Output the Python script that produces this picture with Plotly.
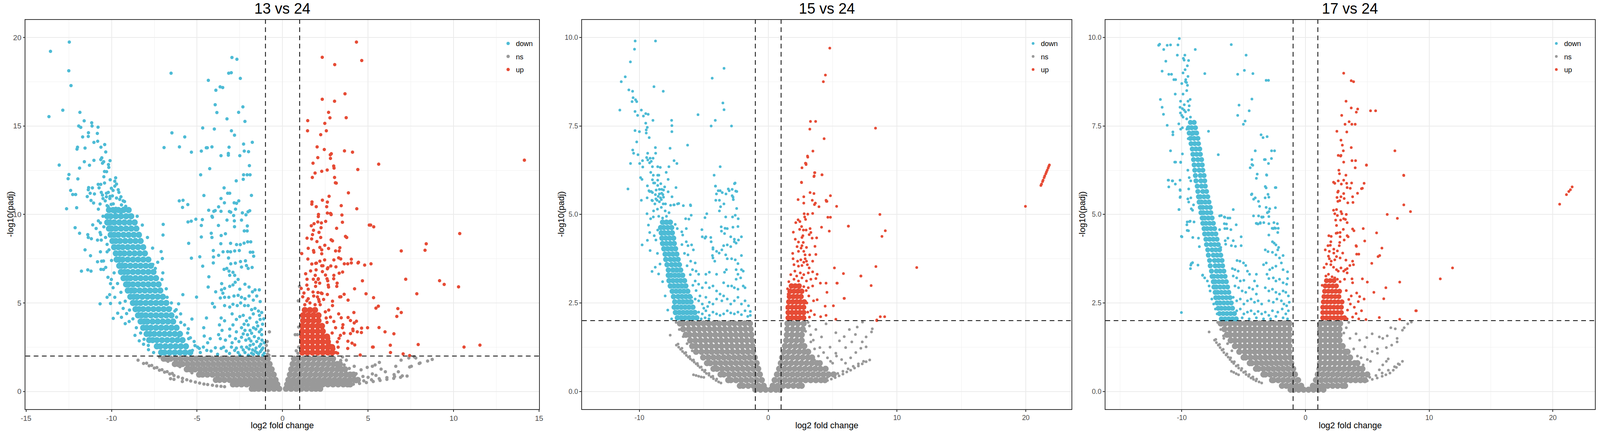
import plotly.graph_objects as go

W, H = 4552, 1104
FONT = "Liberation Sans, Arial, sans-serif"
BLUE, GRAY, RED = "#4DBBD5", "#999999", "#E64B35"

titles = ["13 vs 24", "15 vs 24", "17 vs 24"]
categories = ["down", "ns", "up"]
x_label = "log2 fold change"
y_label = "-log10(padj)"
p1_xticks = [-15, -10, -5, 0, 5, 10, 15]
p1_yticks = [0, 5, 10, 15, 20]
p23_xticks = [-10, 0, 10, 20]
p23_yticks = [0, 2.5, 5, 7.5, 10]
p23_yticktext = ["0.0", "2.5", "5.0", "7.5", "10.0"]
lfc_cut = [-1, 1]
padj_cut = 2

# ---------------- panel 1 : 13 vs 24 ----------------
p1_down_core = [
    (2.2, [-5.4, -5.7, -6.0, -6.3, -6.6, -6.9, -7.1]),
    (2.55, [-5.65, -5.95, -6.25, -6.55, -6.85, -7.15, -7.35]),
    (2.9, [-5.85, -6.15, -6.45, -6.75, -7.05, -7.35, -7.6, -7.8]),
    (3.25, [-6.0, -6.3, -6.6, -6.9, -7.2, -7.5, -7.75, -7.95]),
    (3.6, [-6.2, -6.5, -6.8, -7.1, -7.4, -7.7, -7.95, -8.15]),
    (3.95, [-6.4, -6.7, -7.0, -7.3, -7.6, -7.9, -8.1, -8.3]),
    (4.3, [-6.5, -6.8, -7.1, -7.4, -7.7, -8.0, -8.25, -8.45]),
    (4.65, [-6.65, -6.95, -7.25, -7.55, -7.85, -8.15, -8.4, -8.6]),
    (5.0, [-6.8, -7.1, -7.4, -7.7, -8.0, -8.3, -8.55, -8.75]),
    (5.35, [-7.0, -7.3, -7.6, -7.9, -8.2, -8.5, -8.7, -8.9]),
    (5.7, [-7.15, -7.45, -7.75, -8.05, -8.35, -8.65, -8.85, -9.05]),
    (6.05, [-7.25, -7.55, -7.85, -8.15, -8.45, -8.75, -9.0, -9.15]),
    (6.4, [-7.4, -7.7, -8.0, -8.3, -8.6, -8.9, -9.1, -9.3]),
    (6.75, [-7.55, -7.85, -8.15, -8.45, -8.75, -9.05, -9.25, -9.45]),
    (7.1, [-7.7, -8.0, -8.3, -8.6, -8.9, -9.2, -9.4, -9.55]),
    (7.45, [-7.85, -8.15, -8.45, -8.75, -9.05, -9.35, -9.55, -9.7]),
    (7.8, [-8.05, -8.35, -8.65, -8.95, -9.25, -9.5, -9.75]),
    (8.15, [-8.15, -8.45, -8.75, -9.05, -9.35, -9.6, -9.85]),
    (8.5, [-8.3, -8.6, -8.9, -9.2, -9.5, -9.75, -9.95]),
    (8.85, [-8.4, -8.7, -9.0, -9.3, -9.6, -9.85, -10.05]),
    (9.2, [-8.55, -8.85, -9.15, -9.45, -9.75, -10.0, -10.15]),
    (9.55, [-8.65, -8.95, -9.25, -9.55, -9.85, -10.1, -10.25]),
    (9.9, [-8.85, -9.15, -9.45, -9.75, -10.05, -10.25]),
    (10.25, [-9.0, -9.3, -9.6, -9.9, -10.15]),
]
p1_down = [
    (-13.57, 19.22), (-12.47, 19.74), (-12.5, 18.12), (-12.37, 17.28), (-12.85, 15.89), (-13.66, 15.53),
    (-11.85, 15.77), (-11.6, 15.29), (-11.92, 15.0), (-11.8, 14.92), (-11.16, 15.18), (-11.14, 15.0),
    (-10.79, 14.93), (-11.35, 14.62), (-11.36, 14.41), (-11.69, 14.38), (-10.83, 14.58), (-11.03, 14.07),
    (-10.81, 14.14), (-11.99, 13.8), (-12.02, 13.69), (-11.55, 13.75), (-10.62, 13.8), (-10.4, 13.95),
    (-10.34, 13.53), (-10.57, 13.2), (-10.63, 13.1), (-11.03, 13.06), (-11.59, 12.98), (-11.29, 12.78),
    (-11.87, 12.62), (-13.06, 12.79), (-10.53, 12.9), (-10.46, 12.98), (-10.09, 13.04), (-10.18, 12.82),
    (-10.16, 12.66), (-10.41, 12.43), (-10.29, 12.42), (-12.49, 12.26), (-12.54, 12.02), (-11.97, 12.01),
    (-10.45, 12.13), (-10.08, 11.96), (-9.76, 12.07), (-9.81, 11.88), (-10.78, 11.7), (-10.73, 11.5),
    (-10.63, 11.7), (-10.41, 11.78), (-11.34, 11.52), (-11.12, 11.5), (-11.36, 11.4), (-12.39, 11.36),
    (-12.27, 11.13), (-12.1, 11.13), (-12.04, 10.38), (-12.63, 10.32), (-11.42, 11.01), (-11.25, 11.2),
    (-11.0, 11.16), (-11.2, 10.79), (-11.05, 10.65), (-10.67, 10.59), (-10.77, 10.3), (-10.53, 11.1),
    (-10.3, 11.0), (-10.09, 11.02), (-10.26, 10.5), (-10.02, 10.57), (-10.37, 10.77), (-10.19, 11.25),
    (-10.01, 11.48), (-9.91, 11.36), (-9.81, 11.6), (-9.71, 11.72), (-9.61, 11.4), (-9.57, 11.25),
    (-9.71, 10.93), (-9.52, 10.85), (-9.42, 10.54), (-9.32, 10.77), (-9.24, 10.73), (-9.17, 10.46),
    (-9.12, 10.3), (-8.97, 9.95), (-8.92, 9.87), (-10.1, 10.9), (-9.9, 10.6), (-10.2, 10.45), (-9.6, 10.2),
    (-9.8, 10.1), (-10.0, 10.3), (-9.45, 10.05), (-9.3, 10.35), (-10.5, 10.9), (-10.3, 11.2), (-9.95, 11.05),
    (-9.45, 11.0), (-10.6, 11.25), (-9.75, 10.35),
    (-6.52, 17.98), (-6.47, 14.61), (-5.72, 14.38), (-6.93, 13.78), (-6.03, 13.82), (-5.33, 13.52),
    (-6.04, 10.77), (-5.82, 10.8), (-5.85, 10.4), (-5.54, 10.56), (-2.96, 18.87), (-2.67, 18.77),
    (-3.0, 18.01), (-3.15, 17.98), (-2.47, 17.69), (-4.34, 17.58), (-3.9, 17.02), (-3.65, 17.21),
    (-3.5, 17.17), (-3.94, 16.2), (-3.84, 15.76), (-2.32, 16.08), (-2.57, 15.77), (-3.25, 15.4),
    (-2.2, 15.26), (-4.67, 14.89), (-3.99, 14.83), (-2.99, 14.73), (-2.81, 14.48), (-1.77, 14.08),
    (-2.28, 13.98), (-4.75, 13.58), (-4.46, 13.77), (-4.4, 13.77), (-4.13, 13.82), (-3.13, 13.8),
    (-2.24, 13.58), (-1.99, 13.55), (-3.6, 13.32), (-3.17, 13.45), (-3.17, 13.35), (-2.5, 13.32),
    (-1.94, 12.76), (-4.26, 12.59), (-4.79, 12.24), (-2.28, 12.24), (-2.07, 12.24), (-1.9, 12.24),
    (-2.3, 11.99), (-2.71, 11.9), (-3.42, 11.5), (-3.21, 11.2), (-3.09, 11.2), (-4.6, 11.07),
    (-1.82, 11.08), (-3.6, 10.9), (-3.4, 10.66), (-2.83, 10.66), (-2.69, 10.63), (-2.56, 10.77),
    (-3.74, 10.43), (-3.6, 10.18), (-4.32, 10.24), (-4.02, 10.18), (-3.94, 10.22), (-3.11, 10.17),
    (-3.03, 10.13), (-2.75, 10.3), (-2.35, 10.09), (-2.02, 10.15), (-1.92, 10.21), (-4.13, 9.9),
    (-2.86, 9.94), (-2.14, 9.98),
    (-5.53, 9.58), (-5.34, 9.62), (-5.07, 9.73), (-4.69, 9.71), (-4.1, 9.84), (-3.25, 9.68), (-2.82, 9.64),
    (-2.4, 9.68), (-4.75, 9.38), (-3.75, 9.38), (-2.81, 9.31), (-2.06, 9.35), (-2.24, 9.07), (-2.07, 9.07),
    (-4.17, 8.94), (-4.75, 8.73), (-4.13, 8.7), (-3.59, 8.81), (-3.34, 8.91), (-5.49, 8.37), (-3.61, 8.35),
    (-3.04, 8.37), (-2.69, 8.3), (-2.47, 8.3), (-2.25, 8.38), (-2.04, 8.45), (-1.86, 8.45), (-4.05, 7.96),
    (-3.48, 7.89), (-3.21, 7.9), (-3.04, 7.89), (-2.8, 7.94), (-2.53, 7.96), (-1.89, 7.87), (-1.74, 7.87),
    (-5.33, 7.53), (-4.84, 7.61), (-4.04, 7.6), (-3.74, 7.69), (-3.16, 7.54), (-1.69, 7.64), (-4.05, 7.26),
    (-3.03, 7.21), (-2.76, 7.25), (-2.46, 7.34), (-2.17, 7.38), (-4.67, 7.08), (-1.78, 7.01), (-3.42, 6.9),
    (-3.26, 6.95), (-3.13, 6.8), (-2.9, 6.73), (-2.4, 7.03), (-2.11, 7.11), (-2.01, 6.95), (-4.31, 6.48),
    (-3.09, 6.56), (-2.8, 6.56), (-3.56, 6.09), (-4.35, 5.9), (-3.91, 5.63), (-3.57, 5.74), (-3.39, 5.82),
    (-3.49, 5.55), (-3.09, 5.94), (-2.9, 6.02), (-2.77, 6.17), (-2.6, 6.33), (-2.5, 5.78), (-2.2, 6.06),
    (-1.96, 5.9), (-1.76, 5.63), (-1.61, 5.74), (-1.36, 5.74), (-5.83, 5.47), (-5.03, 5.33), (-3.64, 5.28),
    (-3.39, 5.32), (-3.14, 5.32), (-2.84, 5.39), (-2.6, 5.43), (-2.4, 5.32), (-2.2, 5.24), (-1.96, 5.39),
    (-1.71, 5.16), (-1.51, 5.39), (-1.31, 5.08), (-6.08, 4.95), (-4.1, 4.97), (-3.98, 4.77), (-3.39, 4.85),
    (-3.09, 4.77), (-2.9, 4.93), (-2.65, 4.85), (-2.45, 5.0), (-2.22, 4.85), (-2.01, 4.85), (-1.81, 4.62),
    (-1.61, 4.69), (-1.41, 4.54), (-1.22, 4.46), (-6.22, 4.62), (-5.96, 4.38), (-5.3, 4.09), (-4.45, 4.15),
    (-3.59, 4.15), (-3.39, 3.99), (-2.95, 4.38), (-2.7, 4.07), (-2.5, 4.23), (-2.3, 4.3), (-2.11, 3.99),
    (-1.91, 4.15), (-1.71, 4.38), (-1.51, 3.91), (-1.31, 4.07), (-1.17, 3.8), (-5.73, 3.76), (-5.51, 3.54),
    (-4.61, 3.6), (-3.69, 3.76), (-3.54, 3.45), (-3.09, 3.52), (-2.9, 3.76), (-2.7, 3.37), (-2.4, 3.6),
    (-2.2, 3.45), (-2.01, 3.76), (-1.81, 3.29), (-1.56, 3.52), (-1.36, 3.37), (-1.22, 3.21), (-5.39, 3.03),
    (-5.17, 2.82), (-4.58, 3.13), (-4.38, 2.75), (-4.23, 2.98), (-3.74, 3.21), (-3.64, 2.98), (-3.34, 2.9),
    (-3.09, 3.13), (-2.95, 2.75), (-2.75, 2.98), (-2.55, 2.82), (-2.4, 3.06), (-2.15, 2.9), (-1.96, 2.98),
    (-1.71, 2.67), (-1.51, 2.82), (-1.27, 2.67), (-1.07, 2.75), (-5.12, 2.59), (-4.87, 2.43), (-4.63, 2.51),
    (-4.43, 2.32), (-4.18, 2.28), (-3.93, 2.47), (-3.59, 2.43), (-3.29, 2.28), (-2.99, 2.51), (-2.8, 2.32),
    (-2.6, 2.2), (-2.4, 2.51), (-2.2, 2.2), (-1.96, 2.4), (-1.81, 2.16), (-1.61, 2.28), (-1.41, 2.12),
    (-1.22, 2.36), (-1.07, 2.16),
    (-1.15, 2.45), (-1.35, 2.55), (-1.55, 2.45), (-1.75, 2.35), (-1.9, 2.6), (-2.1, 2.5), (-2.3, 2.35),
    (-1.2, 2.9), (-1.4, 3.0), (-1.65, 3.1), (-1.85, 2.85), (-2.05, 3.2), (-2.3, 3.25), (-1.25, 3.5),
    (-1.45, 3.7), (-1.7, 3.6), (-1.9, 3.45), (-2.25, 3.8), (-1.1, 4.1), (-1.35, 4.3), (-1.15, 2.05),
    (-1.3, 2.25), (-1.5, 2.2), (-1.7, 2.1), (-2.0, 2.05), (-2.5, 2.05), (-2.7, 2.45), (-3.1, 2.15),
    (-3.45, 2.5), (-3.8, 2.1),
    (-12.13, 9.25), (-11.87, 8.94), (-11.39, 8.86), (-11.36, 8.7), (-11.18, 8.63), (-11.55, 8.0),
    (-11.23, 7.67), (-10.82, 8.55), (-10.6, 8.55), (-10.65, 7.89), (-10.82, 7.33), (-10.58, 7.36),
    (-10.47, 7.37), (-11.76, 6.8), (-11.39, 6.87), (-11.2, 6.8), (-10.62, 6.9), (-10.47, 6.89),
    (-10.34, 7.01), (-10.26, 8.31), (-10.26, 7.89), (-10.67, 8.98), (-10.63, 8.86), (-11.1, 9.41),
    (-10.9, 9.21), (-10.77, 9.64), (-10.65, 9.52), (-10.21, 6.45), (-10.01, 6.33), (-10.06, 6.09),
    (-9.91, 5.86), (-10.26, 5.32), (-10.11, 5.47), (-10.06, 4.97), (-10.67, 4.95), (-9.9, 4.13),
    (-9.64, 4.42), (-9.42, 4.19), (-9.2, 3.83), (-8.97, 3.95), (-9.12, 4.4), (-8.63, 3.17), (-8.38, 2.86),
    (-8.13, 2.67), (-7.84, 2.36), (-7.54, 2.2), (-9.81, 5.32), (-9.51, 5.0), (-9.32, 4.69),
    (-10.5, 9.9), (-10.45, 9.3), (-10.35, 8.7), (-10.15, 8.0), (-10.0, 7.4), (-9.85, 6.7), (-9.65, 6.1),
    (-9.45, 5.6), (-9.2, 5.1), (-8.95, 4.6), (-8.75, 4.1), (-8.55, 3.6), (-8.3, 3.3), (-8.1, 2.95),
    (-7.85, 2.6),
    (-5.49, 2.98), (-6.06, 3.13), (-5.96, 2.51), (-5.66, 2.59), (-5.27, 2.32), (-4.97, 2.51), (-4.81, 2.2),
    (-6.55, 4.69), (-6.3, 4.54), (-6.75, 5.32), (-7.05, 6.33), (-7.44, 6.95), (-7.59, 7.18), (-6.98, 9.44),
    (-6.99, 8.84), (-7.1, 7.9), (-7.03, 7.51), (-5.55, 3.3), (-5.95, 3.9), (-6.2, 4.2), (-6.5, 5.0),
    (-6.8, 5.8), (-7.0, 6.7), (-7.3, 7.3), (-7.6, 8.1), (-7.9, 8.7), (-8.2, 9.4), (-8.5, 9.9),
]
p1_ns_core = [
    (1.85, [-0.87, -1.15, -1.45, -1.75, -2.05, -2.35, -2.65, -2.95, -3.25, -3.55, -3.85, -4.15, -4.45, -4.75,
            -5.05, -5.35, -5.65, -5.95, -6.25, -6.55, -6.8, -6.95,
            0.67, 0.95, 1.25, 1.55, 1.85, 2.15, 2.45, 2.75, 2.95]),
    (1.55, [-0.76, -1.05, -1.35, -1.65, -1.95, -2.25, -2.55, -2.85, -3.15, -3.45, -3.75, -4.05, -4.35, -4.65,
            -4.95, -5.25, -5.55, -5.85, -6.1, -6.3,
            0.59, 0.88, 1.18, 1.48, 1.78, 2.08, 2.38, 2.68, 2.98, 3.2, 3.35]),
    (1.25, [-0.64, -0.92, -1.22, -1.52, -1.82, -2.12, -2.42, -2.72, -3.02, -3.32, -3.62, -3.92, -4.22, -4.52,
            -4.82, -5.12, -5.4, -5.6,
            0.51, 0.8, 1.1, 1.4, 1.7, 2.0, 2.3, 2.6, 2.9, 3.2, 3.45, 3.65]),
    (0.95, [-0.52, -0.8, -1.1, -1.4, -1.7, -2.0, -2.3, -2.6, -2.9, -3.2, -3.5, -3.8, -4.1, -4.4, -4.68, -4.88,
            0.43, 0.72, 1.02, 1.32, 1.62, 1.92, 2.22, 2.52, 2.82, 3.12, 3.42, 3.72, 3.95, 4.15]),
    (0.65, [-0.41, -0.7, -1.0, -1.3, -1.6, -1.9, -2.2, -2.5, -2.8, -3.1, -3.4, -3.68, -3.9,
            0.34, 0.63, 0.93, 1.23, 1.53, 1.83, 2.13, 2.43, 2.73, 3.03, 3.33, 3.63, 3.93, 4.2, 4.4]),
    (0.4, [-0.31, -0.6, -0.9, -1.2, -1.5, -1.8, -2.1, -2.4, -2.68, -2.9,
           0.27, 0.55, 0.85, 1.15, 1.45, 1.75, 2.05, 2.35, 2.65, 2.95, 3.25, 3.55, 3.8, 3.95]),
    (0.15, [-0.2, -0.5, -0.8, -1.1, -1.4, -1.65, -1.8, 0.2, 0.5, 0.8, 1.1, 1.4, 1.7, 1.95, 2.2]),
]
p1_ns = [
    (4.14, 0.41), (4.5, 0.45), (4.9, 0.5), (5.3, 0.56), (5.7, 0.62), (6.1, 0.68), (6.5, 0.74), (6.9, 0.8),
    (7.28, 0.87), (4.3, 0.55), (4.75, 0.6), (5.2, 0.66), (5.65, 0.72), (6.1, 0.78), (6.55, 0.84), (7.0, 0.88),
    (-8.13, 1.58), (-7.8, 1.45), (-7.5, 1.32), (-7.2, 1.2), (-6.9, 1.09), (-6.6, 0.99), (-6.35, 0.9),
    (-6.1, 0.82), (-5.85, 0.74), (-5.6, 0.66), (-5.37, 0.59), (-5.1, 0.53), (-4.85, 0.47), (-4.6, 0.42),
    (-4.38, 0.39), (-4.1, 0.35), (-3.85, 0.31), (-3.6, 0.29), (-3.39, 0.27), (-7.95, 1.6), (-7.65, 1.47),
    (-7.35, 1.35), (-7.05, 1.23), (-6.75, 1.12), (-6.45, 1.02), (-6.55, 0.72), (-6.35, 0.68), (-5.86, 0.56),
    (-8.45, 1.77), (3.73, 1.77), (4.19, 1.42), (4.59, 1.22), (4.95, 1.36), (5.25, 1.42), (5.41, 1.5),
    (5.66, 1.64), (5.25, 0.99), (5.46, 0.91), (5.76, 1.26), (6.01, 1.11), (6.62, 1.42), (6.93, 1.77),
    (6.77, 1.11), (6.52, 0.95), (7.38, 1.89), (7.43, 1.38), (7.53, 1.42), (7.69, 1.96), (7.79, 1.89),
    (7.99, 1.58), (8.04, 1.61), (8.48, 1.72), (8.75, 1.81),
    (0.99, 5.94), (0.92, 5.12), (0.94, 3.64), (0.74, 3.21), (0.87, 3.21), (0.94, 2.51), (0.8, 2.3),
    (0.9, 2.15), (-0.77, 3.37), (-0.9, 2.82), (-0.85, 2.3), (-0.95, 2.6), (-0.88, 2.1), (-0.8, 2.05),
    (3.4, 1.75), (3.6, 1.5), (3.9, 1.3), (4.3, 1.0), (4.7, 0.85), (5.0, 0.8), (3.5, 1.95), (-7.2, 1.95),
    (-6.7, 1.7), (-6.0, 1.4), (-5.3, 1.05),
]
p1_up_core = [
    (2.2, [1.15, 1.45, 1.75, 2.05, 2.35, 2.65, 2.9]),
    (2.5, [1.15, 1.45, 1.75, 2.05, 2.35, 2.65, 2.9]),
    (2.8, [1.15, 1.45, 1.75, 2.05, 2.35, 2.65]),
    (3.1, [1.15, 1.45, 1.75, 2.05, 2.35, 2.6]),
    (3.4, [1.15, 1.45, 1.75, 2.05, 2.35]),
    (3.7, [1.15, 1.45, 1.75, 2.05, 2.3]),
    (4.0, [1.2, 1.5, 1.8, 2.1]),
    (4.3, [1.2, 1.5, 1.8, 2.1]),
    (4.6, [1.3, 1.6, 1.9]),
]
p1_up = [
    (4.32, 19.74), (2.32, 18.88), (4.63, 18.7), (3.05, 18.47), (3.65, 16.82), (2.32, 16.51), (3.04, 16.4),
    (2.69, 15.77), (2.77, 15.46), (3.72, 15.47), (1.47, 15.3), (2.47, 15.15), (1.46, 14.73), (2.56, 14.73),
    (2.23, 14.51), (2.02, 13.82), (2.44, 13.67), (3.62, 13.59), (4.09, 13.52), (2.79, 13.37), (2.85, 13.43),
    (2.06, 13.21), (2.8, 13.17), (1.78, 12.9), (5.62, 12.84), (14.14, 13.07), (2.99, 12.74), (3.01, 12.62),
    (4.4, 12.54), (2.61, 12.51), (2.29, 12.44), (1.9, 12.34), (1.74, 12.09), (3.04, 12.09), (3.09, 11.79),
    (3.14, 11.77), (3.85, 11.22), (2.72, 11.03), (2.33, 10.81), (2.62, 10.7), (1.72, 10.71), (1.71, 10.58),
    (1.97, 10.44), (2.58, 10.44), (3.43, 10.5), (4.34, 10.32), (2.1, 10.0), (2.09, 9.88), (2.62, 10.08),
    (2.8, 10.06), (2.83, 10.03), (3.47, 9.97), (2.84, 9.99), (1.84, 9.48), (1.68, 9.36), (2.06, 9.58),
    (2.27, 9.52), (2.25, 9.25), (2.52, 9.61), (1.81, 9.11), (2.13, 8.99), (3.16, 9.22), (3.5, 9.56),
    (5.07, 9.4), (5.15, 9.4), (5.33, 9.3), (10.36, 8.92), (1.75, 8.86), (1.7, 8.62), (1.43, 8.66),
    (2.01, 8.47), (2.23, 8.7), (2.92, 8.51), (2.84, 8.57), (3.68, 8.76), (3.75, 8.7), (8.4, 8.34),
    (8.33, 7.98), (6.94, 7.94), (1.5, 8.09), (2.18, 8.14), (2.47, 8.26), (2.69, 8.08), (1.81, 7.96),
    (1.83, 7.87), (2.29, 8.0), (3.1, 7.94), (3.31, 7.94), (3.35, 8.12), (1.12, 7.79), (2.29, 7.78),
    (1.48, 7.48), (2.18, 7.36), (2.46, 7.43), (3.0, 7.43), (3.28, 7.55), (3.4, 7.49), (4.02, 7.47),
    (1.71, 7.2), (1.94, 7.24), (1.98, 7.25), (2.29, 7.1), (2.36, 7.1), (2.65, 6.99), (2.62, 6.93),
    (2.82, 7.09), (3.12, 7.04), (3.61, 7.21), (3.81, 7.21), (4.02, 7.26), (4.44, 7.3), (4.41, 7.26),
    (4.8, 7.14), (5.17, 7.21), (1.64, 6.81), (1.96, 6.87), (2.33, 6.77), (3.31, 6.68), (3.51, 6.75),
    (1.35, 6.65), (1.91, 6.56), (2.09, 6.37), (1.8, 6.34), (2.08, 6.33), (2.51, 6.58), (2.6, 6.37),
    (2.64, 6.25), (3.0, 6.56), (2.99, 6.37), (1.94, 6.17), (1.93, 5.94), (2.17, 6.12), (2.67, 6.01),
    (2.69, 5.9), (3.19, 6.12), (3.17, 5.94), (1.43, 6.34), (1.42, 6.01), (4.67, 6.25), (4.21, 5.8),
    (7.2, 6.34), (9.18, 6.26), (9.45, 6.05), (10.29, 5.91), (7.85, 5.52), (4.88, 5.52), (5.32, 5.3),
    (3.6, 5.49), (3.34, 5.34), (3.41, 5.35), (3.83, 5.16), (1.09, 5.82), (1.5, 5.78), (1.25, 5.56),
    (1.18, 5.35), (1.78, 5.62), (1.82, 5.39), (2.07, 5.59), (2.04, 5.34), (2.26, 5.56), (2.31, 5.53),
    (2.62, 5.48), (1.5, 5.24), (1.42, 5.12), (2.11, 5.2), (2.14, 5.08), (2.92, 5.1), (2.92, 4.85),
    (5.46, 4.71), (5.6, 4.82), (6.74, 4.68), (6.94, 4.46), (6.68, 4.24), (4.17, 4.46), (3.83, 4.18),
    (3.28, 4.38), (3.43, 4.16), (3.97, 4.01), (4.19, 3.87), (4.32, 3.97), (3.53, 3.77), (3.5, 3.6),
    (4.62, 3.58), (4.61, 3.33), (4.97, 3.6), (5.64, 3.61), (5.99, 3.37), (6.51, 3.26), (4.37, 3.37),
    (4.11, 3.52), (4.12, 3.43), (3.97, 3.27), (3.59, 3.29), (3.38, 3.17), (3.82, 2.84), (4.06, 2.73),
    (4.22, 2.63), (3.81, 2.43), (5.26, 2.51), (5.3, 2.51), (6.3, 2.61), (6.31, 2.2), (7.93, 2.65),
    (10.61, 2.51), (11.54, 2.62), (7.05, 2.12), (7.43, 2.03), (4.54, 2.06), (3.12, 2.2), (3.22, 2.16),
    (2.67, 2.28), (2.97, 2.24), (2.6, 2.3), (2.8, 2.6), (3.0, 2.4), (3.2, 2.8), (2.7, 3.0), (2.9, 3.3),
    (3.1, 3.6), (2.6, 3.9), (2.8, 4.2), (2.5, 4.5), (2.2, 4.9), (1.9, 4.9), (1.6, 5.0), (1.3, 4.9),
    (2.4, 5.2), (3.3, 3.0), (3.0, 3.95), (2.7, 4.6), (3.25, 2.5), (2.55, 4.15),
]

# ---------------- panel 2 : 15 vs 24 ----------------
p2_down_core = [
    (2.08, [-5.55, -5.85, -6.15, -6.45, -6.75, -7.05]),
    (2.23, [-5.7, -6.0, -6.3, -6.6, -6.9, -7.2]),
    (2.38, [-5.85, -6.15, -6.45, -6.75, -7.05, -7.3]),
    (2.53, [-6.0, -6.3, -6.6, -6.9, -7.25]),
    (2.68, [-6.1, -6.4, -6.7, -7.0, -7.35]),
    (2.83, [-6.25, -6.55, -6.85, -7.15, -7.45]),
    (2.98, [-6.4, -6.7, -7.0, -7.3, -7.6]),
    (3.13, [-6.5, -6.8, -7.1, -7.4, -7.7]),
    (3.28, [-6.65, -6.95, -7.25, -7.55, -7.75]),
    (3.43, [-6.8, -7.1, -7.4, -7.75]),
    (3.58, [-6.9, -7.2, -7.5, -7.85]),
    (3.73, [-7.0, -7.3, -7.6, -7.95]),
    (3.88, [-7.1, -7.4, -7.7, -8.0]),
    (4.03, [-7.2, -7.5, -7.8, -8.1]),
    (4.18, [-7.3, -7.6, -7.9, -8.2]),
    (4.33, [-7.35, -7.65, -7.95, -8.25]),
    (4.48, [-7.45, -7.75, -8.05, -8.3]),
    (4.63, [-7.5, -7.8, -8.1, -8.35]),
    (4.78, [-7.6, -7.9, -8.2]),
]
p2_down = [
    (-10.33, 9.9), (-8.75, 9.9), (-10.38, 9.67), (-10.7, 9.31), (-11.1, 8.89), (-11.41, 8.75), (-8.87, 8.61),
    (-8.15, 8.48), (-10.82, 8.52), (-10.53, 8.48), (-10.49, 8.3), (-10.57, 8.19), (-10.3, 8.24), (-10.21, 8.19),
    (-11.52, 7.95), (-10.34, 7.91), (-9.85, 7.95), (-10.14, 7.8), (-9.69, 7.78), (-9.51, 7.85), (-9.32, 7.83),
    (-8.95, 7.66), (-7.5, 7.66), (-7.48, 7.51), (-7.48, 7.34), (-5.45, 7.82), (-4.35, 8.85), (-3.43, 9.13),
    (-3.52, 8.15), (-3.43, 7.96), (-4.11, 7.66), (-4.43, 7.5), (-2.85, 7.5), (-9.51, 7.58), (-9.39, 7.46),
    (-9.47, 7.39), (-9.47, 7.3), (-10.34, 7.37), (-10.0, 7.34), (-9.24, 7.17), (-10.21, 7.05), (-8.76, 6.89),
    (-7.62, 6.87), (-6.26, 6.96), (-10.52, 6.82), (-10.45, 6.73), (-10.11, 6.69), (-9.36, 6.73), (-8.74, 6.73),
    (-10.69, 6.44), (-9.44, 6.61), (-9.17, 6.59), (-8.94, 6.59), (-9.35, 6.54), (-9.08, 6.5), (-9.98, 6.44),
    (-9.76, 6.52), (-9.74, 6.34), (-9.21, 6.46), (-8.99, 6.35), (-8.58, 6.35), (-8.38, 6.33), (-7.71, 6.35),
    (-7.31, 6.52), (-7.09, 6.44), (-3.73, 6.35), (-4.2, 6.11), (-9.12, 6.19), (-8.92, 6.11), (-8.58, 6.11),
    (-8.49, 6.11), (-7.92, 6.19), (-7.77, 5.99), (-9.91, 6.04), (-9.8, 5.99), (-8.99, 5.98), (-8.9, 5.89),
    (-8.81, 5.89), (-8.58, 5.97), (-9.38, 5.81), (-8.58, 5.82), (-8.34, 5.87), (-8.04, 5.78), (-7.16, 5.76),
    (-10.89, 5.72), (-9.26, 5.67), (-9.08, 5.65), (-8.7, 5.69), (-8.45, 5.71), (-8.27, 5.71), (-8.13, 5.69),
    (-7.77, 5.64), (-8.45, 5.58), (-8.27, 5.6), (-8.18, 5.56), (-8.54, 5.51), (-8.36, 5.47), (-8.13, 5.49),
    (-9.4, 5.47), (-8.76, 5.56), (-7.47, 5.5), (-9.85, 5.4), (-9.03, 5.4), (-8.63, 5.4), (-8.45, 5.36),
    (-2.62, 5.87), (-2.44, 5.65), (-3.03, 5.67), (-2.8, 5.71), (-3.28, 5.58), (-2.8, 5.53), (-2.71, 5.42),
    (-4.07, 5.4), (-3.79, 5.4), (-3.73, 5.67), (-3.88, 5.67), (-4.09, 5.8),
    (-4.1, 5.8), (-4.02, 5.58), (-3.57, 5.62), (-3.1, 5.72), (-2.57, 5.89), (-2.52, 5.66), (-2.73, 5.49),
    (-3.44, 5.3), (-3.7, 5.22), (-6.59, 5.25), (-6.04, 5.27), (-7.3, 5.27), (-7.04, 5.3),
    (-9.2, 5.65), (-8.99, 5.62), (-8.99, 5.39), (-8.72, 5.44), (-8.3, 5.42), (-7.98, 5.3), (-9.41, 5.02),
    (-9.13, 4.88), (-8.92, 4.93), (-7.58, 5.26), (-7.33, 5.27), (-6.95, 5.31), (-9.3, 4.7), (-9.2, 4.49),
    (-9.38, 4.27), (-9.17, 3.98), (-9.79, 4.14), (-9.02, 3.39), (-8.77, 3.51), (-8.51, 3.32), (-8.72, 4.28),
    (-8.3, 4.19), (-8.58, 4.56), (-6.02, 5.25), (-5.98, 4.98), (-6.41, 4.88), (-6.16, 4.87), (-7.22, 4.72),
    (-7.06, 4.6), (-6.71, 4.51), (-6.64, 4.42), (-6.36, 4.6), (-6.36, 4.23), (-6.23, 4.12), (-5.95, 4.14),
    (-5.81, 4.0), (-5.15, 4.57), (-4.91, 4.33), (-4.84, 4.37), (-4.91, 4.91), (-4.77, 5.02), (-4.46, 4.35),
    (-4.43, 4.23), (-5.12, 4.37), (-4.29, 4.06), (-4.33, 3.84), (-3.79, 5.1), (-2.45, 5.17), (-3.3, 4.93),
    (-2.77, 4.93), (-2.56, 4.98), (-2.33, 4.88), (-3.65, 4.65), (-3.35, 4.61), (-3.18, 4.6), (-2.74, 4.64),
    (-2.35, 4.66), (-3.63, 4.53), (-3.39, 4.46), (-2.91, 4.37), (-2.63, 4.3), (-2.49, 4.19), (-2.08, 4.37),
    (-2.31, 4.28), (-3.46, 4.12), (-3.18, 4.14), (-2.91, 4.09), (-2.63, 4.23), (-4.29, 4.02), (-4.01, 3.96),
    (-3.81, 3.91), (-3.6, 4.0), (-3.3, 3.86), (-3.18, 3.75), (-2.84, 3.75), (-2.56, 3.72), (-2.35, 3.61),
    (-2.08, 3.84), (-4.29, 3.77), (-4.15, 3.68), (-4.84, 3.31), (-4.57, 3.37), (-4.01, 3.31), (-3.39, 3.37),
    (-3.25, 3.44), (-2.49, 3.44), (-2.35, 3.31), (-2.08, 3.44), (-1.94, 3.4), (-2.49, 3.17), (-2.14, 3.21),
    (-3.46, 3.07), (-3.12, 2.98), (-2.84, 2.98), (-2.63, 2.93), (-2.35, 2.89), (-1.94, 2.98), (-1.8, 2.93),
    (-5.67, 3.12), (-5.4, 3.03), (-5.12, 2.93), (-4.84, 3.07), (-4.57, 2.93), (-4.29, 2.98), (-4.01, 2.84),
    (-3.74, 2.75), (-5.6, 3.4), (-5.88, 3.44), (-5.4, 3.31), (-6.23, 3.86), (-6.02, 3.68), (-5.67, 3.63),
    (-5.95, 2.66), (-5.67, 2.61), (-5.4, 2.56), (-5.12, 2.47), (-4.84, 2.66), (-4.57, 2.52), (-4.29, 2.47),
    (-4.01, 2.61), (-3.6, 2.56), (-3.46, 2.7), (-3.18, 2.61), (-2.91, 2.47), (-2.63, 2.56), (-2.35, 2.66),
    (-2.08, 2.47), (-1.8, 2.56), (-1.53, 2.42), (-1.39, 2.26), (-5.4, 2.24), (-5.12, 2.19), (-4.84, 2.28),
    (-4.57, 2.15), (-4.29, 2.24), (-4.01, 2.19), (-3.74, 2.15), (-3.46, 2.19), (-3.18, 2.28), (-2.91, 2.22),
    (-2.63, 2.19), (-2.35, 2.24), (-2.08, 2.17), (-1.8, 2.28), (-1.59, 2.12), (-1.39, 2.15),
    (-8.9, 5.1), (-8.6, 5.15), (-8.3, 5.2), (-8.0, 5.1), (-8.8, 5.3), (-8.15, 5.3), (-8.5, 4.95),
    (-8.2, 4.9), (-7.9, 4.95), (-7.7, 5.05), (-5.2, 2.05), (-4.9, 2.08), (-4.6, 2.05), (-5.0, 2.35),
    (-4.7, 2.4), (-5.3, 2.7), (-5.6, 2.85), (-5.85, 3.0), (-6.05, 3.3), (-6.3, 3.55), (-6.5, 3.9),
    (-6.7, 4.15), (-7.8, 2.3), (-8.0, 2.7), (-8.2, 3.1), (-8.4, 3.6), (-8.6, 3.9), (-8.85, 4.4), (-7.5, 2.05),
]
p2_ns_core = [
    (1.92, [-1.42, -1.82, -2.22, -2.62, -3.02, -3.42, -3.82, -4.22, -4.62, -5.02, -5.42, -5.82, -6.22, -6.62,
            -6.85, 1.5, 1.9, 2.3, 2.75]),
    (1.76, [-1.37, -1.77, -2.17, -2.57, -2.97, -3.37, -3.77, -4.17, -4.57, -4.97, -5.37, -5.77, -6.17, -6.6,
            1.48, 1.88, 2.28, 2.68]),
    (1.6, [-1.31, -1.71, -2.11, -2.51, -2.91, -3.31, -3.71, -4.11, -4.51, -4.91, -5.31, -5.71, -6.11, -6.4,
           1.45, 1.85, 2.25, 2.6]),
    (1.44, [-1.26, -1.66, -2.06, -2.46, -2.86, -3.26, -3.66, -4.06, -4.46, -4.86, -5.26, -5.66, -6.06,
            1.4, 1.8, 2.2, 2.6]),
    (1.28, [-1.22, -1.62, -2.02, -2.42, -2.82, -3.22, -3.62, -4.02, -4.42, -4.82, -5.22, -5.62, -5.9,
            1.3, 1.7, 2.1, 2.5, 2.8]),
    (1.12, [-1.18, -1.58, -1.98, -2.38, -2.78, -3.18, -3.58, -3.98, -4.38, -4.78, -5.18, -5.6,
            1.2, 1.6, 2.0, 2.4, 2.8, 3.1]),
    (0.96, [-1.05, -1.45, -1.85, -2.25, -2.65, -3.05, -3.45, -3.85, -4.25, -4.65, -5.05,
            1.08, 1.48, 1.88, 2.28, 2.68, 3.08, 3.4]),
    (0.8, [-0.9, -1.3, -1.7, -2.1, -2.5, -2.9, -3.3, -3.7, -4.1, -4.5, -4.75,
           0.98, 1.38, 1.78, 2.18, 2.58, 2.98, 3.38, 3.78, 4.0]),
    (0.64, [-0.78, -1.18, -1.58, -1.98, -2.38, -2.78, -3.18, -3.58, -3.98, -4.25,
            0.85, 1.25, 1.65, 2.05, 2.45, 2.85, 3.25, 3.65, 4.05, 4.45]),
    (0.48, [-0.65, -1.05, -1.45, -1.85, -2.25, -2.65, -3.05, -3.45, -3.7,
            0.68, 1.08, 1.48, 1.88, 2.28, 2.68, 3.08, 3.48, 3.88, 4.28, 4.68, 5.08]),
    (0.32, [-0.5, -0.9, -1.3, -1.7, -2.1, -2.5, -2.9, -3.1,
            0.5, 0.9, 1.3, 1.7, 2.1, 2.5, 2.9, 3.3, 3.7, 4.1, 4.4]),
    (0.16, [-0.35, -0.75, -1.15, -1.55, -1.95, -2.2, 0.35, 0.75, 1.15, 1.55, 1.95, 2.35, 2.6]),
    (0.05, [-0.2, -0.6, -1.0, 0.2, 0.6, 0.9]),
]
p2_ns = [
    (-7.13, 1.31), (-6.95, 1.25), (-6.8, 1.19), (-6.65, 1.13), (-6.5, 1.08), (-6.35, 1.02), (-6.2, 0.97),
    (-6.05, 0.92), (-5.9, 0.88), (-5.75, 0.83), (-5.6, 0.78), (-5.45, 0.73), (-5.3, 0.68), (-5.12, 0.61),
    (-4.95, 0.56), (-4.8, 0.51), (-4.6, 0.46), (-4.43, 0.41), (-4.25, 0.36), (-4.05, 0.31), (-3.85, 0.27),
    (-3.67, 0.24), (-7.0, 1.34), (-6.7, 1.22), (-6.4, 1.1), (-6.1, 0.99), (-5.8, 0.89), (-5.5, 0.79),
    (-5.2, 0.69), (-4.9, 0.6), (-4.6, 0.51), (-4.3, 0.43), (-4.0, 0.35),
    (-5.8, 0.47), (-5.6, 0.45), (-5.4, 0.43), (-5.2, 0.41), (-5.0, 0.4),
    (4.6, 0.31), (4.9, 0.35), (5.2, 0.39), (5.5, 0.44), (5.8, 0.49), (6.1, 0.55), (6.4, 0.6), (6.7, 0.66),
    (7.0, 0.72), (7.3, 0.78), (7.6, 0.84), (7.88, 0.89), (4.6, 0.4), (5.0, 0.45), (5.4, 0.51), (5.8, 0.57),
    (6.2, 0.64), (6.6, 0.71), (7.0, 0.78), (7.4, 0.85),
    (-7.61, 1.59), (4.14, 1.54), (4.49, 1.91), (5.25, 1.66), (5.53, 1.43), (6.49, 1.4), (6.77, 1.61),
    (6.91, 1.82), (7.32, 1.96), (7.6, 1.54), (8.02, 1.68), (8.08, 1.77), (7.6, 1.26), (7.19, 1.22),
    (6.01, 1.24), (4.01, 1.24), (3.31, 1.4), (3.59, 0.89), (4.84, 0.85), (5.25, 1.08), (4.14, 0.61),
    (3.3, 1.6), (3.6, 1.2), (3.9, 1.0), (4.3, 1.1), (4.6, 0.95), (5.0, 0.8), (5.3, 1.0), (5.7, 0.9),
    (6.0, 0.8), (6.4, 0.95), (6.8, 1.1), (3.2, 1.85), (3.5, 1.45), (2.9, 1.7), (3.1, 1.95), (3.7, 1.75),
    (4.8, 1.25), (5.9, 1.55), (6.3, 1.75), (7.3, 1.4), (-7.15, 1.95), (-6.9, 1.75), (-6.6, 1.55),
    (-6.3, 1.35), (-5.9, 1.15),
]
p2_up_core = [
    (2.08, [1.55, 1.85, 2.15, 2.45, 2.75]),
    (2.23, [1.55, 1.85, 2.15, 2.45, 2.75]),
    (2.38, [1.55, 1.85, 2.15, 2.45, 2.75]),
    (2.53, [1.6, 1.9, 2.2, 2.5, 2.8]),
    (2.68, [1.65, 1.95, 2.25, 2.55]),
    (2.83, [1.7, 2.0, 2.3, 2.6]),
    (2.98, [1.8, 2.1, 2.4]),
]
p2_up = [
    (4.78, 9.7), (4.44, 8.94), (4.28, 8.75), (3.28, 7.63), (3.68, 7.63), (3.23, 7.41), (4.34, 7.14),
    (8.33, 7.44), (3.47, 6.79), (3.05, 6.65), (2.89, 6.45), (2.94, 6.41), (3.6, 6.18), (3.57, 6.09),
    (4.18, 6.12), (2.58, 5.91), (8.67, 5.0), (9.09, 4.54), (8.83, 4.38), (6.23, 4.67), (8.36, 3.53),
    (11.53, 3.5), (7.2, 3.26), (7.99, 2.99), (5.33, 3.06), (5.89, 2.63), (5.31, 5.23), (4.83, 4.92),
    (4.52, 5.37), (8.7, 2.11), (9.04, 2.11), (8.43, 2.0), (19.97, 5.23),
    (21.17, 5.82), (21.22, 5.86), (21.3, 5.93), (21.34, 5.97), (21.42, 6.04), (21.47, 6.09), (21.55, 6.15),
    (21.6, 6.2), (21.66, 6.25), (21.73, 6.31), (21.78, 6.36), (21.83, 6.4),
    (3.07, 6.62), (2.93, 6.44), (2.62, 6.32), (3.62, 6.18), (3.55, 6.07), (4.17, 6.12), (2.59, 5.9),
    (3.25, 5.62), (3.55, 5.59), (4.83, 5.53), (2.32, 5.42), (2.76, 5.5), (3.42, 5.4), (3.66, 5.32),
    (3.59, 5.28), (4.49, 5.4), (4.56, 5.37), (2.76, 5.32), (3.94, 5.22), (2.79, 5.02), (3.07, 5.01),
    (3.45, 5.03), (2.83, 4.93), (2.9, 4.86), (4.63, 4.92), (2.32, 4.85), (2.14, 4.77), (2.46, 4.8),
    (6.22, 4.67), (2.59, 4.66), (4.14, 4.64), (2.44, 4.58), (2.73, 4.56), (2.94, 4.56), (3.25, 4.6),
    (3.31, 4.49), (4.74, 4.53), (2.69, 4.4), (2.62, 4.35), (3.18, 4.43), (3.41, 4.33), (3.76, 4.34),
    (2.35, 4.22), (2.72, 4.21), (2.62, 4.12), (2.97, 4.07), (3.63, 4.1), (2.24, 4.09), (2.55, 4.05),
    (2.35, 3.96), (2.76, 3.96), (2.86, 3.86), (3.22, 3.86), (3.7, 3.87), (1.93, 3.75), (2.28, 3.68),
    (2.53, 3.72), (2.87, 3.75), (2.76, 3.65), (2.97, 3.68), (2.0, 3.58), (2.35, 3.54), (2.62, 3.56),
    (3.04, 3.58), (3.45, 3.68), (3.18, 3.49), (5.14, 3.49), (5.84, 3.33), (7.19, 3.26), (2.07, 3.4),
    (2.49, 3.35), (2.21, 3.26), (2.76, 3.3), (3.11, 3.35), (3.45, 3.38), (3.8, 3.31), (2.0, 3.17),
    (2.35, 3.12), (2.62, 3.21), (2.97, 3.12), (3.31, 3.17), (3.7, 3.19), (4.05, 3.06), (4.49, 3.06),
    (5.36, 3.06), (2.07, 2.98), (2.41, 2.93), (2.76, 2.96), (3.11, 2.93), (3.45, 2.98), (4.56, 2.8),
    (5.91, 2.63), (3.52, 2.56), (3.8, 2.59), (4.42, 2.41), (5.06, 2.42), (3.07, 2.24), (3.31, 2.28),
    (3.59, 2.17), (4.07, 2.11), (4.49, 2.15), (5.25, 2.04), (8.43, 2.02),
    (1.5, 2.9), (1.6, 3.1), (1.75, 3.3), (1.55, 2.75), (3.0, 2.5), (3.15, 2.7), (2.95, 2.85), (3.2, 2.1),
    (1.45, 2.35), (1.9, 3.9), (2.1, 4.3), (1.95, 4.5),
]

# ---------------- panel 3 : 17 vs 24 ----------------
p3_down_core = [
    (2.05, [-5.6, -5.9, -6.2, -6.5, -6.8]),
    (2.2, [-5.75, -6.05, -6.35, -6.65, -6.95]),
    (2.35, [-5.9, -6.2, -6.5, -6.8, -7.05]),
    (2.5, [-6.0, -6.3, -6.6, -6.9, -7.15]),
    (2.65, [-6.1, -6.4, -6.7, -7.0, -7.25]),
    (2.8, [-6.2, -6.5, -6.8, -7.1, -7.3]),
    (2.95, [-6.3, -6.6, -6.9, -7.2, -7.4]),
    (3.1, [-6.4, -6.7, -7.0, -7.3, -7.45]),
    (3.25, [-6.5, -6.8, -7.1, -7.4, -7.55]),
    (3.4, [-6.6, -6.9, -7.2, -7.6]),
    (3.55, [-6.7, -7.0, -7.3, -7.7]),
    (3.7, [-6.75, -7.05, -7.35, -7.75]),
    (3.85, [-6.85, -7.15, -7.45, -7.85]),
    (4.0, [-6.95, -7.25, -7.55, -7.9]),
    (4.15, [-7.05, -7.35, -7.65, -8.0]),
    (4.3, [-7.15, -7.45, -7.75, -8.05]),
    (4.45, [-7.25, -7.55, -7.85, -8.15]),
    (4.6, [-7.35, -7.65, -7.95, -8.2]),
    (4.75, [-7.45, -7.75, -8.05, -8.3]),
    (4.9, [-7.55, -7.85, -8.15, -8.35]),
    (5.05, [-7.65, -7.95, -8.25, -8.45]),
    (5.2, [-7.7, -8.0, -8.3, -8.5]),
    (5.35, [-7.8, -8.1, -8.4, -8.6]),
    (5.5, [-7.9, -8.2, -8.5, -8.65]),
    (5.65, [-8.0, -8.3, -8.7]),
    (5.8, [-8.1, -8.4, -8.75]),
    (5.95, [-8.15, -8.45, -8.85]),
    (6.1, [-8.2, -8.5, -8.9]),
    (6.25, [-8.3, -8.6, -8.95]),
    (6.4, [-8.35, -8.65, -9.0]),
    (6.55, [-8.4, -8.7, -9.05]),
    (6.7, [-8.5, -8.8, -9.1]),
    (6.85, [-8.55, -8.85, -9.15]),
    (7.0, [-8.65, -8.95, -9.25]),
    (7.15, [-8.7, -9.0, -9.3]),
    (7.3, [-8.8, -9.1, -9.4]),
    (7.45, [-8.9, -9.2, -9.45]),
    (7.6, [-9.0, -9.3]),
]
p3_down = [
    (-11.87, 9.78), (-11.79, 9.81), (-11.46, 9.66), (-11.18, 9.78), (-10.91, 9.79), (-10.31, 9.79),
    (-10.2, 9.97), (-10.36, 9.5), (-9.87, 9.41), (-9.81, 9.36), (-8.91, 9.66), (-6.0, 9.8), (-4.8, 9.5),
    (-4.94, 9.07), (-5.48, 8.96), (-4.25, 8.98), (-3.18, 8.79), (-2.99, 8.79), (-11.29, 9.33), (-11.59, 9.05),
    (-11.05, 8.96), (-10.83, 8.96), (-10.64, 8.81), (-10.5, 8.81), (-9.73, 9.09), (-9.68, 8.81), (-9.62, 8.73),
    (-9.54, 8.65), (-8.14, 8.98), (-10.53, 8.4), (-11.73, 8.25), (-11.59, 8.03), (-11.48, 7.83), (-10.14, 8.03),
    (-9.95, 7.99), (-9.81, 7.95), (-9.32, 8.25), (-9.4, 8.07), (-10.11, 7.87), (-10.0, 7.8), (-4.33, 8.26),
    (-5.37, 8.09), (-5.48, 7.8), (-4.55, 7.93), (-4.88, 7.64), (-5.02, 7.55), (-11.18, 7.52), (-10.72, 7.33),
    (-10.72, 7.25), (-10.24, 7.56), (-10.09, 7.41), (-9.95, 7.45), (-9.59, 7.41), (-9.48, 7.14), (-9.18, 7.25),
    (-8.99, 7.33), (-7.84, 7.35), (-10.91, 6.8), (-9.95, 6.71), (-10.5, 6.48), (-10.09, 6.48), (-7.05, 6.69),
    (-3.59, 7.25), (-3.43, 7.17), (-3.1, 7.2), (-2.74, 6.8), (-2.5, 6.8), (-4.06, 6.8), (-4.47, 6.32),
    (-4.33, 6.41), (-3.32, 6.55), (-3.15, 6.12), (-11.1, 5.97), (-10.77, 5.95), (-11.05, 5.78), (-10.14, 5.97),
    (-10.14, 5.7), (-10.14, 5.48), (-10.22, 5.14), (-10.03, 4.38), (-9.59, 4.71), (-9.46, 4.54), (-9.27, 5.47),
    (-9.05, 5.27), (-9.32, 4.81), (-5.84, 5.14), (-6.94, 4.96), (-6.52, 4.92), (-6.11, 4.9), (-6.39, 4.73),
    (-6.94, 4.57), (-6.85, 4.07), (-6.03, 4.57), (-4.33, 5.58), (-4.06, 5.47), (-3.18, 5.75), (-2.44, 5.76),
    (-3.26, 5.47), (-4.2, 4.96), (-3.79, 4.96), (-3.51, 4.92), (-3.18, 5.2), (-2.96, 5.08), (-3.65, 4.77),
    (-3.37, 4.77), (-3.98, 4.75), (-3.84, 4.73), (-2.55, 4.77), (-2.69, 4.61), (-2.42, 4.61), (-2.2, 4.61),
    (-9.13, 3.64), (-9.27, 3.57), (-8.31, 3.29), (-10.03, 2.23),
    (-6.81, 4.97), (-6.56, 4.93), (-6.27, 4.9), (-6.56, 4.74), (-6.52, 4.6), (-6.35, 4.6), (-5.6, 4.71),
    (-6.49, 4.26), (-6.45, 4.16), (-5.99, 4.12), (-5.84, 4.26), (-6.27, 4.33), (-5.66, 4.1), (-5.2, 4.12),
    (-5.2, 4.37), (-5.53, 3.7), (-5.3, 3.68), (-5.01, 3.63), (-4.83, 3.56), (-4.69, 3.4), (-4.52, 3.31),
    (-5.91, 3.47), (-5.7, 3.44), (-5.44, 3.4), (-5.84, 3.26), (-5.56, 3.21), (-5.27, 3.12), (-4.98, 3.14),
    (-3.97, 3.31), (-4.12, 3.12), (-3.9, 2.98), (-5.7, 2.98), (-5.41, 2.93), (-5.12, 2.84), (-4.83, 2.8),
    (-4.55, 2.93), (-4.26, 2.89), (-3.97, 2.75), (-5.84, 2.66), (-5.56, 2.56), (-5.27, 2.61), (-4.98, 2.47),
    (-4.69, 2.56), (-4.4, 2.61), (-4.12, 2.52), (-3.83, 2.56), (-3.54, 2.47), (-5.56, 2.28), (-5.27, 2.33),
    (-4.98, 2.19), (-4.69, 2.24), (-4.4, 2.28), (-4.12, 2.19), (-3.83, 2.26), (-3.54, 2.19), (-3.25, 2.24),
    (-2.96, 2.15), (-5.12, 2.08), (-4.55, 2.05), (-3.97, 2.08), (-3.39, 2.05), (-2.82, 2.05),
    (-4.33, 6.55), (-4.26, 6.39), (-3.25, 6.55), (-2.99, 6.44), (-2.75, 6.58), (-3.9, 6.14), (-3.97, 6.02),
    (-3.13, 6.11), (-3.25, 5.79), (-2.39, 5.76), (-4.37, 5.56), (-4.19, 5.43), (-3.8, 5.37), (-3.03, 5.57),
    (-2.96, 5.49), (-3.71, 5.23), (-2.89, 5.16), (-2.43, 5.19), (-3.08, 5.05), (-2.96, 4.94), (-3.54, 4.93),
    (-3.42, 4.93), (-3.9, 4.74), (-3.65, 4.75), (-2.96, 4.74), (-2.27, 4.74), (-2.6, 4.6), (-2.5, 4.62),
    (-2.96, 4.42), (-2.24, 4.49), (-2.67, 4.23), (-2.53, 4.19), (-2.39, 4.14), (-2.17, 4.07), (-2.24, 4.0),
    (-3.25, 4.0), (-3.03, 3.95), (-2.67, 3.93), (-2.39, 3.86), (-1.81, 3.84), (-2.1, 3.77), (-3.39, 3.58),
    (-3.17, 3.63), (-2.67, 3.49), (-2.89, 3.44), (-2.39, 3.54), (-1.95, 3.63), (-1.81, 3.44), (-1.45, 3.38),
    (-3.11, 3.31), (-2.96, 3.19), (-2.6, 3.21), (-2.39, 3.12), (-2.1, 3.17), (-1.81, 3.07), (-1.52, 3.03),
    (-1.45, 3.19), (-3.25, 2.93), (-2.96, 2.84), (-2.67, 2.89), (-2.39, 2.8), (-2.1, 2.75), (-1.81, 2.84),
    (-1.59, 2.8), (-1.38, 2.7), (-2.96, 2.56), (-2.6, 2.52), (-2.31, 2.61), (-1.95, 2.56), (-1.74, 2.47),
    (-1.52, 2.42), (-1.31, 2.52), (-2.67, 2.28), (-2.24, 2.24), (-1.88, 2.33), (-1.59, 2.19), (-1.38, 2.28),
    (-2.39, 2.12), (-1.81, 2.08), (-1.45, 2.05),
    (-11.07, 5.97), (-10.74, 5.95), (-10.52, 5.86), (-10.57, 6.48), (-10.09, 6.47), (-10.13, 5.68),
    (-10.12, 5.5), (-10.23, 5.14), (-9.99, 4.37), (-9.56, 4.55), (-9.23, 3.61), (-9.3, 3.47), (-8.69, 3.57),
    (-9.56, 4.79), (-9.37, 4.8), (-9.01, 4.79), (-9.11, 4.35), (-8.65, 4.33), (-8.58, 4.09), (-8.32, 3.28),
    (-8.15, 3.21), (-7.93, 3.12), (-7.79, 2.98), (-7.71, 2.84), (-7.57, 2.61), (-7.42, 2.47), (-7.28, 2.33),
    (-7.14, 2.19), (-9.4, 6.04), (-9.27, 5.95), (-9.44, 5.72), (-9.51, 6.25), (-9.51, 5.44), (-9.44, 5.35),
    (-9.23, 5.16), (-9.13, 5.12), (-9.6, 7.7), (-9.7, 7.9), (-9.8, 8.1), (-9.5, 8.2), (-9.9, 8.4),
    (-9.6, 8.5), (-10.0, 8.7), (-9.7, 8.75), (-9.3, 7.75), (-9.2, 7.6), (-9.9, 7.75), (-9.45, 7.95),
    (-10.1, 8.2), (-9.5, 8.9), (-9.9, 9.0), (-9.55, 9.2), (-9.75, 9.5), (-9.45, 9.35),
]
p3_ns_core = [
    (1.92, [-1.3, -1.7, -2.1, -2.5, -2.9, -3.3, -3.7, -4.1, -4.5, -4.9, -5.3, -5.7, -6.1, -6.5, -6.85,
            1.2, 1.6, 2.0, 2.4, 2.8]),
    (1.76, [-1.3, -1.7, -2.1, -2.5, -2.9, -3.3, -3.7, -4.1, -4.5, -4.9, -5.3, -5.7, -6.1, -6.55,
            1.2, 1.6, 2.0, 2.4, 2.75]),
    (1.6, [-1.3, -1.7, -2.1, -2.5, -2.9, -3.3, -3.7, -4.1, -4.5, -4.9, -5.3, -5.7, -6.1, -6.35,
           1.2, 1.6, 2.0, 2.4, 2.75]),
    (1.44, [-1.3, -1.7, -2.1, -2.5, -2.9, -3.3, -3.7, -4.1, -4.5, -4.9, -5.3, -5.7, -6.05,
            1.2, 1.6, 2.0, 2.4, 2.75]),
    (1.28, [-1.3, -1.7, -2.1, -2.5, -2.9, -3.3, -3.7, -4.1, -4.5, -4.9, -5.3, -5.7,
            1.2, 1.6, 2.0, 2.4, 2.8, 3.0]),
    (1.12, [-1.3, -1.7, -2.1, -2.5, -2.9, -3.3, -3.7, -4.1, -4.5, -4.9, -5.35,
            1.2, 1.6, 2.0, 2.4, 2.8, 3.2, 3.4]),
    (0.96, [-1.25, -1.65, -2.05, -2.45, -2.85, -3.25, -3.65, -4.05, -4.45, -4.85, -5.0,
            1.2, 1.6, 2.0, 2.4, 2.8, 3.2, 3.6]),
    (0.8, [-1.15, -1.55, -1.95, -2.35, -2.75, -3.15, -3.55, -3.95, -4.35, -4.5,
           1.18, 1.58, 1.98, 2.38, 2.78, 3.18, 3.58, 3.98, 4.2]),
    (0.64, [-1.0, -1.4, -1.8, -2.2, -2.6, -3.0, -3.4, -3.8, -4.0,
            1.13, 1.53, 1.93, 2.33, 2.73, 3.13, 3.53, 3.93, 4.33, 4.6]),
    (0.48, [-0.85, -1.25, -1.65, -2.05, -2.45, -2.85, -3.25, -3.4,
            1.0, 1.4, 1.8, 2.2, 2.6, 3.0, 3.4, 3.8, 4.2, 4.6, 5.0]),
    (0.32, [-0.6, -1.0, -1.4, -1.8, -2.2, -2.6, -2.7,
            0.85, 1.25, 1.65, 2.05, 2.45, 2.85, 3.25, 3.65, 4.05, 4.45, 4.8]),
    (0.16, [-0.35, -0.75, -1.15, -1.55, -1.9, 0.6, 1.0, 1.4, 1.8, 2.2, 2.6, 3.0, 3.2]),
    (0.05, [-0.15, -0.55, -0.95, -1.2, 0.25, 0.65, 1.05, 1.45]),
]
p3_ns = [
    (-7.35, 1.45), (-7.2, 1.38), (-7.05, 1.31), (-6.9, 1.24), (-6.75, 1.17), (-6.6, 1.1), (-6.42, 1.03),
    (-6.25, 0.97), (-6.1, 0.9), (-5.95, 0.84), (-5.8, 0.79), (-5.6, 0.72), (-5.4, 0.66), (-5.2, 0.6),
    (-5.0, 0.54), (-4.8, 0.48), (-4.6, 0.43), (-4.4, 0.38), (-4.2, 0.34), (-4.0, 0.3), (-3.75, 0.27),
    (-3.54, 0.24), (-7.25, 1.47), (-6.95, 1.33), (-6.65, 1.19), (-6.35, 1.06), (-6.05, 0.95), (-5.75, 0.84),
    (-5.45, 0.74), (-5.15, 0.65), (-4.85, 0.56), (-4.55, 0.48), (-4.25, 0.41), (-3.95, 0.35),
    (-5.99, 0.57), (-5.8, 0.54), (-5.6, 0.5), (-5.41, 0.47),
    (5.0, 0.3), (5.4, 0.34), (5.8, 0.38), (6.2, 0.43), (6.5, 0.47), (6.83, 0.52), (7.1, 0.6), (7.35, 0.68),
    (7.6, 0.76), (7.84, 0.85), (5.2, 0.4), (5.7, 0.45), (6.2, 0.52), (6.7, 0.6), (7.2, 0.7), (7.5, 0.78),
    (-7.79, 1.68), (-6.63, 1.57), (5.39, 1.63), (5.97, 1.54), (6.25, 1.5), (6.61, 1.57), (6.9, 1.8),
    (7.26, 1.77), (7.84, 1.73), (7.98, 1.8), (8.27, 1.91), (8.56, 1.96), (7.41, 1.5), (7.41, 1.4),
    (6.97, 1.31), (6.54, 1.24), (5.82, 1.2), (5.39, 1.13), (4.81, 1.26), (4.38, 1.45), (4.96, 1.52),
    (6.69, 0.92), (6.54, 0.85), (6.25, 0.75), (5.97, 0.61), (4.09, 1.63), (5.82, 1.08), (5.25, 0.85),
    (4.67, 0.75), (3.3, 1.8), (3.6, 1.5), (3.9, 1.2), (4.2, 1.0), (3.5, 1.95), (3.1, 1.65), (4.5, 0.95),
    (5.0, 0.9), (-7.1, 1.95), (-6.85, 1.75), (-6.6, 1.5), (-6.3, 1.35), (-5.95, 1.15),
]
p3_up_core = [
    (2.08, [1.4, 1.7, 2.0, 2.3, 2.6, 2.9, 3.15]),
    (2.23, [1.4, 1.7, 2.0, 2.3, 2.6, 2.9]),
    (2.38, [1.4, 1.7, 2.0, 2.3, 2.6, 2.9]),
    (2.53, [1.45, 1.75, 2.05, 2.35, 2.65, 2.95]),
    (2.68, [1.5, 1.8, 2.1, 2.4, 2.7]),
    (2.83, [1.55, 1.85, 2.15, 2.45, 2.75]),
    (2.98, [1.6, 1.9, 2.2, 2.5]),
    (3.13, [1.7, 2.0, 2.3]),
]
p3_up = [
    (3.09, 8.99), (3.7, 8.78), (3.89, 8.75), (3.28, 8.2), (2.93, 7.8), (3.7, 8.01), (4.11, 7.89), (4.22, 7.98),
    (5.26, 7.93), (5.67, 7.93), (3.53, 7.62), (3.75, 7.55), (4.02, 7.55), (3.2, 7.55), (2.54, 7.35),
    (3.34, 7.33), (2.87, 7.1), (2.98, 6.96), (3.06, 6.8), (3.7, 6.89), (2.65, 6.67), (2.87, 6.67),
    (7.23, 6.8), (4.93, 6.4), (7.94, 6.11), (20.55, 5.29), (21.1, 5.56), (21.29, 5.65), (21.42, 5.7),
    (21.56, 5.78), (11.89, 3.49), (10.9, 3.18), (8.96, 2.28),
    (2.84, 6.65), (3.09, 6.48), (3.76, 6.52), (4.05, 6.52), (4.93, 6.39), (4.02, 6.32), (2.7, 6.25),
    (2.75, 6.15), (3.27, 6.11), (7.95, 6.1), (2.27, 5.91), (2.37, 5.88), (2.65, 5.95), (3.09, 5.97),
    (2.9, 5.86), (3.33, 5.88), (3.73, 5.89), (4.74, 5.88), (3.37, 5.76), (3.62, 5.74), (4.53, 5.73),
    (4.6, 5.74), (2.65, 5.66), (2.61, 5.63), (3.09, 5.59), (4.21, 5.6), (2.87, 5.5), (2.55, 5.48),
    (3.81, 5.5), (3.13, 5.45), (2.77, 5.39), (2.62, 5.37), (3.42, 5.33), (3.84, 5.34), (7.95, 5.27),
    (8.49, 5.08), (6.61, 5.0), (7.43, 4.89), (2.27, 5.12), (2.51, 5.14), (2.37, 5.02), (2.58, 4.97),
    (2.87, 5.08), (2.94, 5.02), (3.3, 5.0), (3.09, 4.88), (3.23, 4.86), (2.84, 4.84), (2.44, 4.84),
    (3.37, 4.77), (2.51, 4.69), (4.67, 4.6), (5.75, 4.48), (3.81, 4.59), (3.92, 4.54), (3.06, 4.58),
    (2.8, 4.49), (2.58, 4.48), (1.89, 4.4), (2.08, 4.38), (2.48, 4.47), (2.8, 4.37), (3.37, 4.4),
    (3.45, 4.37), (3.13, 4.28), (4.79, 4.25), (2.05, 4.23), (2.01, 4.13), (1.82, 4.12), (2.77, 4.21),
    (2.73, 4.12), (4.09, 4.12), (4.12, 4.1), (6.18, 4.05), (2.29, 4.02), (2.58, 3.97), (1.93, 3.96),
    (3.01, 3.91), (2.29, 3.91), (4.31, 3.88), (4.14, 3.88), (6.0, 3.84), (5.87, 3.81), (1.86, 3.82),
    (1.93, 3.75), (2.08, 3.68), (2.37, 3.72), (2.51, 3.81), (2.8, 3.77), (3.27, 3.71), (3.81, 3.68),
    (3.88, 3.58), (3.59, 3.56), (3.37, 3.47), (3.23, 3.44), (5.36, 3.62), (2.05, 3.58), (2.27, 3.51),
    (2.51, 3.44), (2.65, 3.4), (2.87, 3.49), (3.09, 3.4), (3.37, 3.35), (1.65, 3.26), (1.86, 3.31),
    (2.15, 3.24), (2.37, 3.21), (2.58, 3.17), (2.8, 3.1), (3.16, 3.17), (3.76, 3.18), (3.81, 3.07),
    (5.0, 3.09), (4.6, 3.18), (7.62, 3.09), (6.5, 2.93), (5.53, 2.8), (6.33, 2.62), (4.14, 2.78),
    (4.38, 2.68), (4.74, 2.61), (4.27, 2.54), (3.7, 2.7), (3.63, 2.47), (3.95, 2.38), (4.53, 2.28),
    (4.09, 2.2), (3.81, 2.1), (3.37, 2.05), (4.31, 2.05), (4.89, 2.03), (5.97, 2.09), (7.62, 2.04),
    (8.92, 2.28), (3.4, 2.3), (3.5, 2.6), (3.3, 2.85), (1.35, 3.0), (1.5, 3.5), (1.7, 3.6), (1.6, 4.0),
]


def pts_xy(pts):
    return [p[0] for p in pts], [p[1] for p in pts]


def rows_xy(rows):
    xs, ys = [], []
    for y, row in rows:
        for x in row:
            xs.append(x)
            ys.append(y)
    return xs, ys


panels = [
    dict(down=p1_down, down_core=p1_down_core, ns=p1_ns, ns_core=p1_ns_core, up=p1_up, up_core=p1_up_core,
         size=8.5, gcore=16, ccore=16, xdom=[59.6, 1529.0], xr=[-15.03, 15.0], yr=[-1.0, 21.0],
         xt=p1_xticks, xtt=[str(v) for v in p1_xticks], yt=p1_yticks, ytt=[str(v) for v in p1_yticks],
         xminor=[-12.5, -7.5, -2.5, 2.5, 7.5, 12.5], yminor=[2.5, 7.5, 12.5, 17.5],
         ytitle_x=17, legend_px=1418, tickfont=19),
    dict(down=p2_down, down_core=p2_down_core, ns=p2_ns, ns_core=p2_ns_core, up=p2_up, up_core=p2_up_core,
         size=7, gcore=16, ccore=14, xdom=[1652.0, 3052.0], xr=[-14.45, 23.54], yr=[-0.5, 10.5],
         xt=p23_xticks, xtt=[str(v) for v in p23_xticks], yt=p23_yticks, ytt=p23_yticktext,
         xminor=[-15, -5, 5, 15], yminor=[1.25, 3.75, 6.25, 8.75],
         ytitle_x=1593, legend_px=2920, tickfont=17.5),
    dict(down=p3_down, down_core=p3_down_core, ns=p3_ns, ns_core=p3_ns_core, up=p3_up, up_core=p3_up_core,
         size=7, gcore=16, ccore=13, xdom=[3149.4, 4549.7], xr=[-16.17, 23.4], yr=[-0.5, 10.5],
         xt=p23_xticks, xtt=[str(v) for v in p23_xticks], yt=p23_yticks, ytt=p23_yticktext,
         xminor=[-15, -5, 5, 15], yminor=[1.25, 3.75, 6.25, 8.75],
         ytitle_x=3083, legend_px=4417, tickfont=17.5),
]

Y_TOP, Y_BOT = 50.7, 1048.0
ydom = [1 - Y_BOT / H, 1 - Y_TOP / H]
colors = {"down": BLUE, "ns": GRAY, "up": RED}

fig = go.Figure()
layout = {}
shapes, annotations = [], []

for i, P in enumerate(panels):
    n = "" if i == 0 else str(i + 1)
    xa, ya = "x" + n, "y" + n
    leg = "legend" + n
    for cat in ["ns", "down", "up"]:
        xs, ys = rows_xy(P[cat + "_core"])
        fig.add_trace(go.Scatter(
            x=xs, y=ys, mode="markers", showlegend=False, hoverinfo="skip",
            marker=dict(size=P["gcore"] if cat == "ns" else P["ccore"], color=colors[cat], line=dict(width=0)),
            xaxis=xa, yaxis=ya))
    for cat in categories:
        xs, ys = pts_xy(P[cat])
        fig.add_trace(go.Scatter(
            x=xs, y=ys, mode="markers", name=cat, legend=leg, legendgroup=cat + n,
            marker=dict(size=P["size"], color=colors[cat], line=dict(width=0)),
            xaxis=xa, yaxis=ya))

    common = dict(showline=True, mirror=True, linecolor="#333333", linewidth=1.6,
                  ticks="outside", ticklen=5, tickwidth=1.5, tickcolor="#333333",
                  showgrid=True, gridcolor="#EBEBEB", gridwidth=2, zeroline=False,
                  tickfont=dict(family=FONT, size=P["tickfont"], color="#4D4D4D"))
    layout["xaxis" + n] = dict(
        domain=[P["xdom"][0] / W, P["xdom"][1] / W], range=P["xr"], anchor=ya,
        tickmode="array", tickvals=P["xt"], ticktext=P["xtt"],
        minor=dict(tickmode="array", tickvals=P["xminor"], showgrid=True, gridcolor="#F0F0F0", gridwidth=1.2, ticks=""),
        **common)
    layout["yaxis" + n] = dict(
        domain=ydom, range=P["yr"], anchor=xa,
        tickmode="array", tickvals=P["yt"], ticktext=P["ytt"],
        minor=dict(tickmode="array", tickvals=P["yminor"], showgrid=True, gridcolor="#F0F0F0", gridwidth=1.2, ticks=""),
        **common)
    layout[leg] = dict(
        x=P["legend_px"] / W, y=1 - 93 / H, xanchor="left", yanchor="top",
        bgcolor="rgba(255,255,255,0)", borderwidth=0, tracegroupgap=7, traceorder="grouped",
        font=dict(family=FONT, size=18, color="black"), itemsizing="trace", title=dict(text=""))

    dashed = dict(color="black", width=2, dash="12px,9px")
    for xv in lfc_cut:
        shapes.append(dict(type="line", xref=xa, yref=ya + " domain", x0=xv, x1=xv, y0=0, y1=1,
                           line=dashed, layer="above"))
    shapes.append(dict(type="line", xref=xa + " domain", yref=ya, x0=0, x1=1, y0=padj_cut, y1=padj_cut,
                       line=dashed, layer="above"))

    cx = (P["xdom"][0] + P["xdom"][1]) / 2 / W
    annotations.append(dict(text=titles[i], x=cx, y=1.0, xref="paper", yref="paper",
                            xanchor="center", yanchor="top", showarrow=False, borderpad=0,
                            font=dict(family=FONT, size=38, color="black")))
    annotations.append(dict(text=x_label, x=cx, y=1 - 1089 / H, xref="paper", yref="paper",
                            xanchor="center", yanchor="middle", showarrow=False,
                            font=dict(family=FONT, size=22, color="black")))
    annotations.append(dict(text=y_label, x=P["ytitle_x"] / W, y=1 - 549 / H, xref="paper", yref="paper",
                            xanchor="center", yanchor="middle", textangle=-90, showarrow=False,
                            font=dict(family=FONT, size=22, color="black")))

fig.update_layout(
    autosize=True,
    margin=dict(l=0, r=0, t=0, b=0, pad=0),
    paper_bgcolor="white", plot_bgcolor="white",
    shapes=shapes, annotations=annotations,
    hovermode=False,
    **layout,
)

fig.write_html(
    "out.html",
    include_plotlyjs=True,
    full_html=True,
    default_width="100vw",
    default_height="100vh",
    config={"responsive": True, "displayModeBar": False},
    post_script="document.documentElement.style.margin='0';document.body.style.margin='0';"
                "document.body.style.overflow='hidden';"
                "Plotly.Plots.resize(document.getElementById('{plot_id}'));",
)
